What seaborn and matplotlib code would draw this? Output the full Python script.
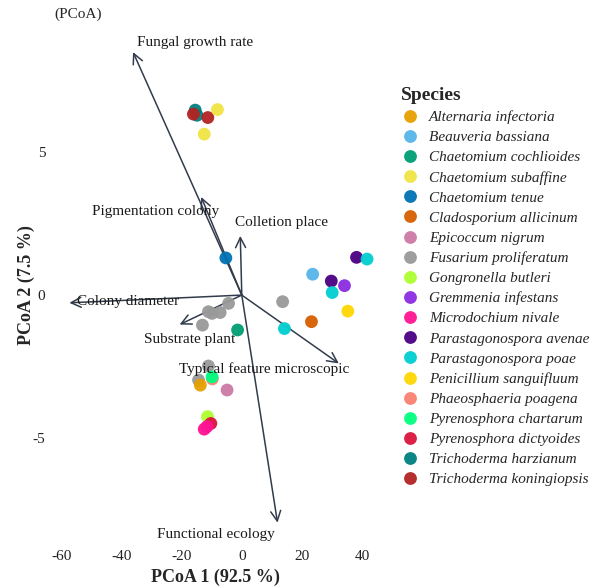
import pandas as pd
import seaborn as sns
import matplotlib.pyplot as plt

# Scores of the isolates on the first two PCoA axes
species = [
    'Trichoderma harzianum', 'Trichoderma harzianum',
    'Trichoderma koningiopsis', 'Trichoderma koningiopsis',
    'Chaetomium subaffine', 'Chaetomium subaffine',
    'Chaetomium tenue',
    'Parastagonospora avenae', 'Parastagonospora avenae',
    'Parastagonospora poae', 'Parastagonospora poae', 'Parastagonospora poae',
    'Beauveria bassiana', 'Gremmenia infestans', 'Penicillium sanguifluum',
    'Cladosporium allicinum',
    'Fusarium proliferatum', 'Fusarium proliferatum', 'Fusarium proliferatum',
    'Fusarium proliferatum', 'Fusarium proliferatum', 'Fusarium proliferatum',
    'Fusarium proliferatum', 'Fusarium proliferatum',
    'Chaetomium cochlioides',
    'Phaeosphaeria poagena', 'Pyrenosphora chartarum',
    'Alternaria infectoria', 'Epicoccum nigrum', 'Gongronella butleri',
    'Pyrenosphora dictyoides', 'Microdochium nivale', 'Microdochium nivale',
]
pcoa1 = [-15.5, -14.9, -16.1, -11.3, -8.1, -12.5, -5.3,
         38.2, 29.8, 41.7, 30.1, 14.2,
         23.6, 34.2, 35.3, 23.2,
         13.6, -4.4, -7.2, -9.9, -11.1, -13.1, -11.1, -14.4,
         -1.4, -9.8, -9.9, -13.8, -4.9, -11.4, -10.3, -11.6, -12.5]
pcoa2 = [6.47, 6.29, 6.33, 6.21, 6.49, 5.63, 1.30,
         1.32, 0.49, 1.26, 0.09, -1.17,
         0.73, 0.33, -0.56, -0.93,
         -0.23, -0.29, -0.61, -0.64, -0.58, -1.05, -2.48, -2.97,
         -1.22, -2.93, -2.86, -3.15, -3.32, -4.25, -4.49, -4.60, -4.69]

# Trait vectors
traits = ['Fungal growth rate', 'Pigmentation colony', 'Colletion place',
          'Colony diameter', 'Substrate plant', 'Typical feature microscopic',
          'Functional ecology']
vec_x = [-36.2, -13.5, -0.5, -57.4, -20.7, 32.3, 11.9]
vec_y = [8.50, 3.43, 2.07, -0.27, -1.03, -2.39, -7.96]
lab_x = [-15.5, -28.8, 13.2, -37.8, -17.5, 7.5, -8.5]
lab_y = [8.85, 2.94, 2.55, -0.24, -1.54, -2.59, -8.36]

order = ['Alternaria infectoria', 'Beauveria bassiana', 'Chaetomium cochlioides',
         'Chaetomium subaffine', 'Chaetomium tenue', 'Cladosporium allicinum',
         'Epicoccum nigrum', 'Fusarium proliferatum', 'Gongronella butleri',
         'Gremmenia infestans', 'Microdochium nivale', 'Parastagonospora avenae',
         'Parastagonospora poae', 'Penicillium sanguifluum', 'Phaeosphaeria poagena',
         'Pyrenosphora chartarum', 'Pyrenosphora dictyoides', 'Trichoderma harzianum',
         'Trichoderma koningiopsis']
colores = ['#E69F00', '#56B4E9', '#009E73', '#F0E442', '#0072B2', '#D55E00',
           '#CC79A7', '#999999', '#ADFF2F', '#8A2BE2', '#FF1493', '#4B0082',
           '#00CED1', '#FFD700', '#FA8072', '#00FF7F', '#DC143C', '#008080',
           '#B22222']

df = pd.DataFrame({'Species': species, 'PCoA1': pcoa1, 'PCoA2': pcoa2})

sns.set_theme(style='white')
plt.rcParams['font.family'] = ['Liberation Serif', 'DejaVu Serif']
plt.rcParams['axes.unicode_minus'] = False

fig = plt.figure(figsize=(5.9, 5.86), dpi=100)
ax = fig.add_axes([0.085, 0.07, 0.56, 0.887])

# flechas de los rasgos
for vx, vy in zip(vec_x, vec_y):
    ax.annotate('', xy=(vx, vy), xytext=(0, 0),
                arrowprops=dict(arrowstyle='->,head_length=0.6,head_width=0.3',
                                color='#323c4c', lw=1.1, shrinkA=0, shrinkB=0))

sns.scatterplot(data=df, x='PCoA1', y='PCoA2', hue='Species', hue_order=order,
                palette=dict(zip(order, colores)), s=85, edgecolor='none',
                alpha=0.95, ax=ax, legend=True, zorder=3)

for t, lx, ly in zip(traits, lab_x, lab_y):
    ax.text(lx, ly, t, ha='center', va='center', fontsize=11, color='#1a1a1a', zorder=4)

ax.set_xlim(-63.8, 46.2)
ax.set_ylim(-8.74, 9.44)
ax.set_xticks([-60, -40, -20, 0, 20, 40])
ax.set_yticks([-5, 0, 5])
ax.tick_params(labelsize=11, length=0, colors='#222222')
for s in ax.spines.values():
    s.set_visible(False)
ax.set_xlabel('PCoA 1 (92.5 %)', fontsize=13, fontweight='bold', labelpad=4)
ax.set_ylabel('PCoA 2 (7.5 %)', fontsize=13, fontweight='bold', labelpad=-2)

fig.text(0.093, 0.976, '(PCoA)', fontsize=11, ha='left', va='center')

handles, labels = ax.get_legend_handles_labels()
leg = ax.legend(handles, labels, title='Species', loc='upper left',
                bbox_to_anchor=(1.044, 0.893), frameon=False, fontsize=11,
                labelspacing=0.42, handlelength=1.1, handletextpad=0.7,
                markerscale=1.0, borderaxespad=0)
for txt in leg.get_texts():
    txt.set_fontstyle('italic')
leg.get_title().set_fontsize(14)
leg.get_title().set_fontweight('bold')
leg._legend_box.align = 'left'

plt.savefig('out.png', dpi=100)
